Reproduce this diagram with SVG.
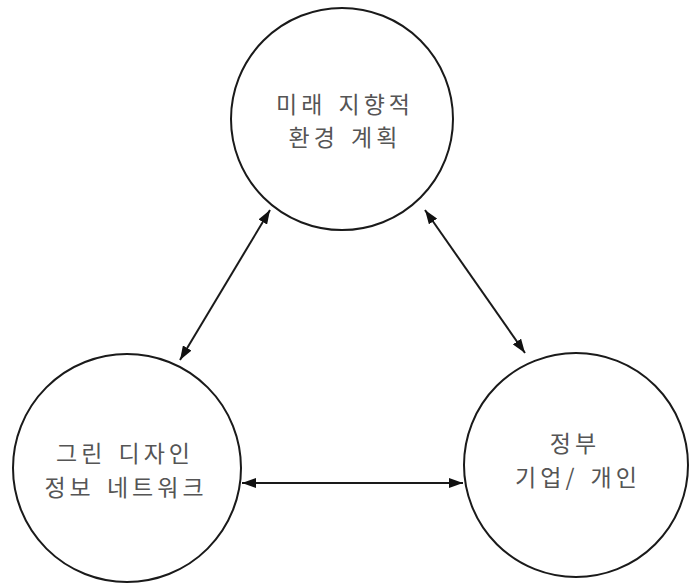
<svg xmlns="http://www.w3.org/2000/svg" width="689" height="585" viewBox="0 0 689 585">
<defs>
<marker id="ah" viewBox="0 0 14 10" refX="14" refY="5" markerWidth="14" markerHeight="10" markerUnits="userSpaceOnUse" orient="auto-start-reverse">
<path d="M0,0 L14,5 L0,10 Z" fill="#111"/>
</marker>
</defs>
<style>
.node circle{fill:#fff;stroke:#1a1a1a;stroke-width:2}
.node text{font-family:"Noto Sans CJK KR","Noto Sans",sans-serif;font-size:23px;fill:#555;text-anchor:middle;letter-spacing:4px;word-spacing:3px}
.conn line{stroke:#1a1a1a;stroke-width:2;marker-start:url(#ah);marker-end:url(#ah)}
</style>
<rect width="689" height="585" fill="#fff"/>
<g id="n1" class="node">
<circle cx="342" cy="119" r="111"/>
<text x="345" y="113">미래 지향적</text>
<text x="345" y="146">환경 계획</text>
</g>
<g id="n2" class="node">
<circle cx="127" cy="468" r="114"/>
<text x="125" y="462">그린 디자인</text>
<text x="126" y="496">정보 네트워크</text>
</g>
<g id="n3" class="node">
<circle cx="576" cy="465" r="112"/>
<text x="575" y="452">정부</text>
<text x="578" y="486">기업/ 개인</text>
</g>
<g id="connectors" class="conn">
<line x1="270" y1="210" x2="180" y2="360"/>
<line x1="425" y1="210" x2="525" y2="353"/>
<line x1="242" y1="483" x2="463" y2="483"/>
</g>
</svg>
